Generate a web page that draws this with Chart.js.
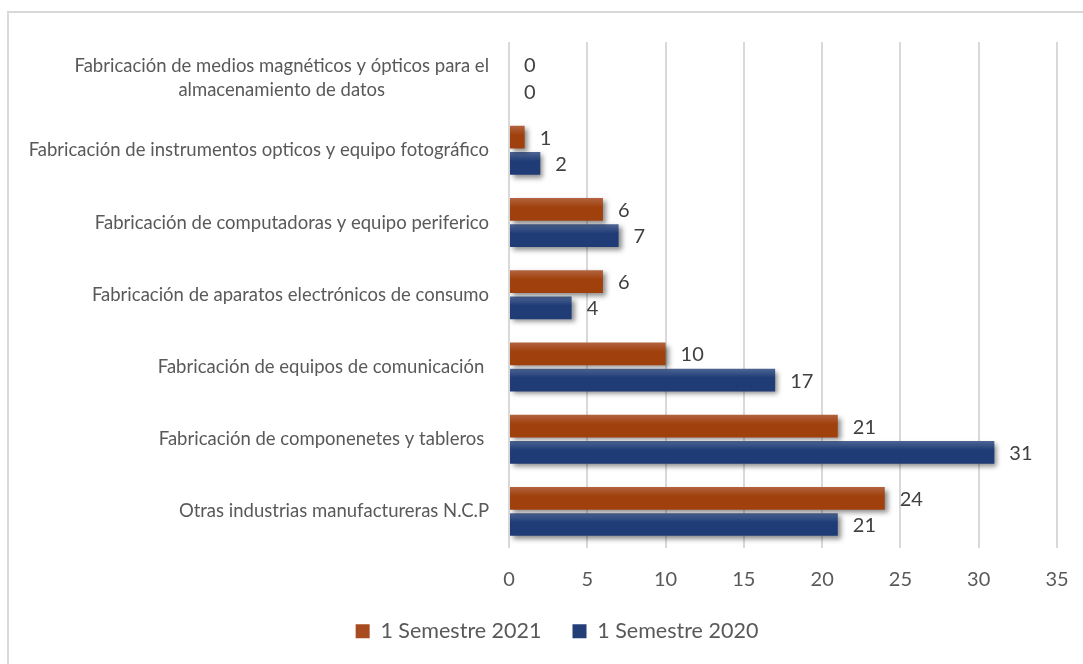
<!DOCTYPE html>
<html>
<head>
<meta charset="utf-8">
<script src="https://cdn.jsdelivr.net/npm/chart.js@4.4.1/dist/chart.umd.min.js"></script>
<style>
    html, body { margin: 0; padding: 0; background: #fff; overflow: hidden; }
    #wrap { width: 1083px; height: 664px; position: relative; }
    canvas { display: block; }
</style>
</head>
<body>
<div id="wrap"><canvas id="chart"></canvas></div>
<script>
// ----------------- DATOS -----------------
const categorias = [
    ["Fabricación de medios magnéticos y ópticos para el", "almacenamiento de datos"],
    ["Fabricación de instrumentos opticos y equipo fotográfico"],
    ["Fabricación de computadoras y equipo periferico"],
    ["Fabricación de aparatos electrónicos de consumo"],
    ["Fabricación de equipos de comunicación "],
    ["Fabricación de componenetes y tableros "],
    ["Otras industrias manufactureras N.C.P"]
];
const semestre2021 = [0, 1, 6, 6, 10, 21, 24];
const semestre2020 = [0, 2, 7, 4, 17, 31, 21];
const series = ["1 Semestre 2021", "1 Semestre 2020"];
const ticksX = [0, 5, 10, 15, 20, 25, 30, 35];

const FONT = "Lato, 'Open Sans', sans-serif";
const colores = {
    naranja: { base: "#a0410d", claro: "#b3633f", legend: "#a84b1f" },
    azul: { base: "#1f3c76", claro: "#4e6694", legend: "#243f78" }
};

// ----------------- PLUGIN: marco, sombra, degradado, etiquetas -----------------
const estiloExcel = {
    id: "estiloExcel",
    beforeDraw(chart) {
        const ctx = chart.ctx;
        ctx.save();
        ctx.strokeStyle = "#d9d9d9";
        ctx.lineWidth = 2;
        ctx.strokeRect(8, 12, 1200, 800);
        ctx.restore();
    },
    beforeDatasetsDraw(chart) {
        const ctx = chart.ctx;
        chart.data.datasets.forEach((ds, i) => {
            const c = i === 0 ? colores.naranja : colores.azul;
            chart.getDatasetMeta(i).data.forEach(el => {
                const top = el.y - el.height / 2;
                const g = ctx.createLinearGradient(0, top, 0, top + el.height);
                g.addColorStop(0, c.claro);
                g.addColorStop(0.4, c.base);
                g.addColorStop(1, c.base);
                el.options = Object.assign({}, el.options, { backgroundColor: g });
            });
        });
        ctx.save();
        ctx.shadowColor = "rgba(0,0,0,0.45)";
        ctx.shadowBlur = 5;
        ctx.shadowOffsetX = 3;
        ctx.shadowOffsetY = 3;
    },
    afterDatasetsDraw(chart) {
        const ctx = chart.ctx;
        ctx.restore();

        // valores
        ctx.save();
        ctx.font = "20px " + FONT;
        ctx.fillStyle = "#404040";
        ctx.textAlign = "left";
        ctx.textBaseline = "middle";
        chart.data.datasets.forEach((ds, i) => {
            chart.getDatasetMeta(i).data.forEach((el, j) => {
                ctx.fillText(String(ds.data[j]), el.x + 15, el.y + 1);
            });
        });
        ctx.restore();

        // categorias
        const yScale = chart.scales.y;
        const xRight = chart.chartArea.left - 20;
        ctx.save();
        ctx.font = "18.5px " + FONT;
        ctx.fillStyle = "#595959";
        ctx.textBaseline = "middle";
        categorias.forEach((lineas, i) => {
            const yc = yScale.getPixelForValue(i);
            if (lineas.length === 1) {
                ctx.textAlign = "right";
                ctx.fillText(lineas[0], xRight, yc);
            } else {
                const w = Math.max(...lineas.map(l => ctx.measureText(l).width));
                ctx.textAlign = "center";
                lineas.forEach((l, k) => {
                    ctx.fillText(l, xRight - w / 2, yc + (k - (lineas.length - 1) / 2) * 24);
                });
            }
        });
        ctx.restore();
    }
};

// ----------------- GRÁFICO -----------------
new Chart(document.getElementById("chart"), {
    type: "bar",
    data: {
        labels: categorias.map(c => c.join(" ")),
        datasets: [
            {
                label: series[0],
                data: semestre2021,
                backgroundColor: colores.naranja.legend,
                borderWidth: 0,
                categoryPercentage: 0.726,
                barPercentage: 0.866
            },
            {
                label: series[1],
                data: semestre2020,
                backgroundColor: colores.azul.legend,
                borderWidth: 0,
                categoryPercentage: 0.726,
                barPercentage: 0.866
            }
        ]
    },
    options: {
        indexAxis: "y",
        responsive: true,
        maintainAspectRatio: false,
        animation: false,
        layout: { padding: { top: 42, right: 26, left: 57, bottom: 12 } },
        plugins: {
            tooltip: { enabled: false },
            legend: {
                position: "bottom",
                labels: {
                    font: { family: FONT, size: 21.5 },
                    color: "#595959",
                    boxWidth: 14,
                    boxHeight: 14,
                    padding: 31
                }
            }
        },
        scales: {
            x: {
                min: ticksX[0],
                max: ticksX[ticksX.length - 1],
                afterBuildTicks: s => { s.ticks = ticksX.map(v => ({ value: v })); },
                afterFit: s => { s.height = 42; },
                grid: { color: "#d9d9d9", lineWidth: 2, drawTicks: true, tickLength: 20, tickColor: "rgba(0,0,0,0)" },
                border: { display: false },
                ticks: { font: { family: FONT, size: 20 }, color: "#595959", padding: 0 }
            },
            y: {
                afterFit: s => { s.width = 452; },
                grid: { display: false },
                border: { display: false },
                ticks: { display: false }
            }
        }
    },
    plugins: [estiloExcel]
});
</script>
</body>
</html>
